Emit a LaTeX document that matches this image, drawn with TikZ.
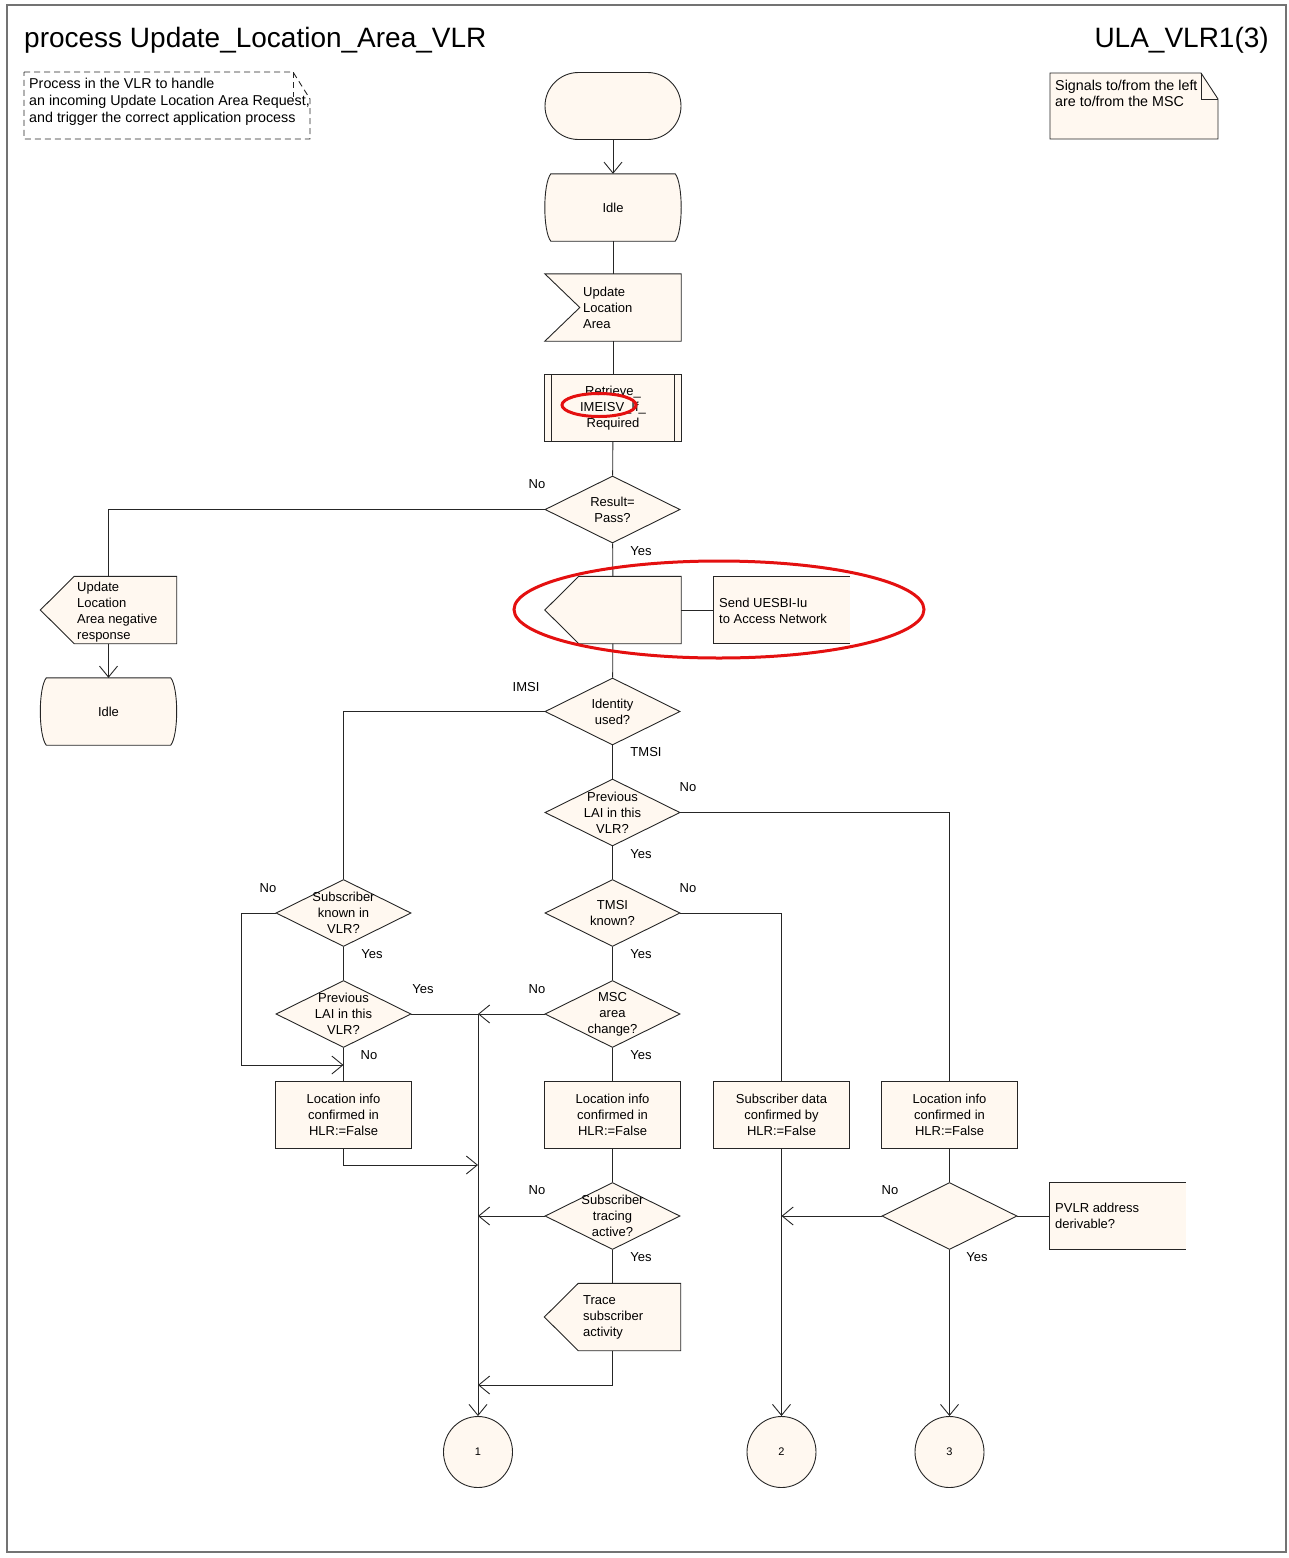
\documentclass[tikz,border=0pt]{standalone}
\usepackage{fontspec}
\setmainfont{Liberation Sans}
\usetikzlibrary{shapes.geometric,arrows.meta,calc}
\definecolor{cream}{RGB}{255,248,240}
\definecolor{markred}{RGB}{228,16,16}
\pgfdeclarelayer{bg}
\pgfsetlayers{bg,main}
\newcommand\sdlstate[1]{\begin{pgfonlayer}{bg}\draw[shp] ($(#1.north west)+(6,0)$) -- ($(#1.north east)+(-6,0)$) .. controls ($(#1.north east)+(2,10)$) and ($(#1.south east)+(2,-10)$) .. ($(#1.south east)+(-6,0)$) -- ($(#1.south west)+(6,0)$) .. controls ($(#1.south west)+(-2,-10)$) and ($(#1.north west)+(-2,10)$) .. ($(#1.north west)+(6,0)$) -- cycle;\end{pgfonlayer}}
\newcommand\sdlinput[1]{\begin{pgfonlayer}{bg}\draw[shp] (#1.north west) -- (#1.north east) -- (#1.south east) -- (#1.south west) -- ($(#1.west)+(35,0)$) -- cycle;\end{pgfonlayer}}
\newcommand\sdloutput[1]{\begin{pgfonlayer}{bg}\draw[shp] ($(#1.north west)+(34,0)$) -- (#1.north east) -- (#1.south east) -- ($(#1.south west)+(34,0)$) -- (#1.west) -- cycle;\end{pgfonlayer}}
\newcommand\sdlproc[1]{\begin{pgfonlayer}{bg}\draw[shp] (#1.north west) rectangle (#1.south east);\draw[shp] ($(#1.north west)+(7,0)$) -- ($(#1.south west)+(7,0)$) ($(#1.north east)+(-7,0)$) -- ($(#1.south east)+(-7,0)$);\end{pgfonlayer}}
\newcommand\sdlcomment[1]{\begin{pgfonlayer}{bg}\fill[cream] (#1.north west) rectangle (#1.south east);\draw[shp,fill=none] (#1.north east) -- (#1.north west) -- (#1.south west) -- (#1.south east);\end{pgfonlayer}}
\begin{document}
\begin{tikzpicture}[x=1pt,y=-1pt,
  every node/.style={font=\fontsize{13}{16}\selectfont},
  ln/.style={line width=0.9pt, draw=black!85},
  arr/.style={ln,-{Straight Barb[length=11pt,width=18pt,line width=0.9pt]}},
  blk/.style={minimum width=136pt, minimum height=67pt, inner sep=0pt, align=center},
  box/.style={blk, draw=black!85, line width=0.9pt, fill=cream},
  dec/.style={diamond, aspect=2, minimum width=135pt, minimum height=67pt, inner sep=0pt, draw=black!85, line width=0.9pt, fill=cream},
  dtxt/.style={align=center, inner sep=0pt},
  ltxt/.style={align=left, inner sep=0pt, anchor=west},
  shp/.style={draw=black!85, line width=0.9pt, fill=cream},
  lab/.style={inner sep=0pt},
  conn/.style={ellipse, minimum width=69pt, minimum height=71pt, inner sep=0pt, draw=black!85, line width=0.9pt, fill=cream, font=\fontsize{11}{13}\selectfont},
  redmark/.style={draw=markred, line width=3pt},
]
\useasboundingbox (0,0) rectangle (1289,1558);
\draw[black!55, line width=1.2pt] (7,5) rectangle (1286,1552);

% title
\node[anchor=west, inner sep=0pt, font=\fontsize{28}{32}\selectfont] (title) at (24,40) {process Update\_Location\_Area\_VLR};
\node[anchor=east, inner sep=0pt, font=\fontsize{28}{32}\selectfont] (page) at (1269,40) {ULA\_VLR1(3)};

% comments
\draw[ln, dash pattern=on 6pt off 4pt] (24,72) -- (293,72) -- (310,99) -- (310,139) -- (24,139) -- cycle;
\draw[ln, dash pattern=on 6pt off 4pt] (293,72) -- (293,97);
\node[ltxt, font=\fontsize{14.3}{17}\selectfont] (cmt0) at (29,102) {Process in the VLR to handle\\an incoming Update Location Area Request,\\and trigger the correct application process};

\draw[shp] (1050,73) -- (1201,73) -- (1218,99) -- (1218,139) -- (1050,139) -- cycle;
\draw[ln] (1201,73) -- (1201,99) -- (1218,99);
\node[ltxt, font=\fontsize{14.3}{15.5}\selectfont] (cmt1) at (1055,93.5) {Signals to/from the left\\are to/from the MSC};

% main column
\node[box, rounded corners=33.5pt] (start) at (613,106) {};
\node[blk] (idle1) at (613,207.5) {Idle};
\sdlstate{idle1}
\node[blk] (ula) at (613,307.5) {};
\sdlinput{ula}
\node[ltxt] (ulat) at (583,307.5) {Update\\Location\\Area};
\node[blk] (proc) at (613,408) {Retrieve\_\\IMEISV\_If\_\\Required};
\sdlproc{proc}
\node[dec] (d1) at (612.5,509.5) {};
\node[dtxt] (d1t) at (d1) {Result=\\Pass?};

\node[blk] (neg) at (108.5,610) {};
\sdloutput{neg}
\node[ltxt] (negt) at (77,612) {Update\\Location\\Area negative\\response};
\node[blk] (idle2) at (108.5,711.5) {Idle};
\sdlstate{idle2}

\node[blk] (out2) at (613,610) {};
\sdloutput{out2}
\node[blk] (cm1) at (781.5,610) {};
\sdlcomment{cm1}
\node[ltxt] (cm1t) at (719,611) {Send UESBI-Iu\\to Access Network};

\node[dec] (d3) at (612.5,711.5) {};
\node[dtxt] (d3t) at (d3) {Identity\\used?};
\node[dec] (d4) at (612.5,812.5) {};
\node[dtxt] (d4t) at (d4) {Previous\\LAI in this\\VLR?};
\node[dec] (d5) at (612.5,913) {};
\node[dtxt] (d5t) at (d5) {TMSI\\known?};
\node[dec] (d6) at (343.5,913) {};
\node[dtxt] (d6t) at (d6) {Subscriber\\known in\\VLR?};
\node[dec] (d7) at (612.5,1014) {};
\node[dtxt] (d7t) at (d7) {MSC\\area\\change?};
\node[dec] (d8) at (343.5,1014) {};
\node[dtxt] (d8t) at (d8) {Previous\\LAI in this\\VLR?};

\node[box] (li1) at (343.5,1115) {Location info\\confirmed in\\HLR:=False};
\node[box] (li2) at (612.5,1115) {Location info\\confirmed in\\HLR:=False};
\node[box] (sd) at (781.5,1115) {Subscriber data\\confirmed by\\HLR:=False};
\node[box] (li3) at (949.5,1115) {Location info\\confirmed in\\HLR:=False};

\node[dec] (d9) at (612.5,1216) {};
\node[dtxt] (d9t) at (d9) {Subscriber\\tracing\\active?};
\node[dec] (d10) at (949.5,1216) {};
\node[blk] (cm2) at (1117.5,1216) {};
\sdlcomment{cm2}
\node[ltxt] (cm2t) at (1055,1216) {PVLR address\\derivable?};

\node[blk] (trace) at (612.5,1317) {};
\sdloutput{trace}
\node[ltxt] (tracet) at (583,1317) {Trace\\subscriber\\activity};

\node[conn] (c1) at (478,1452) {1};
\node[conn] (c2) at (781.5,1452) {2};
\node[conn] (c3) at (949.5,1452) {3};

\coordinate (j1) at (343.5,1065);
\coordinate (j2) at (478,1165);
\coordinate (j3) at (478,1385);

% connectors
\draw[arr] (start) -- (idle1);
\draw[ln] (idle1) -- (ula);
\draw[ln] (ula) -- (proc);
\draw[ln] (proc) -- (d1);
\draw[ln] (d1.west) -| (neg.north);
\draw[arr] (neg) -- (idle2);
\draw[ln] (d1) -- (out2);
\draw[ln] (out2.east) -- (cm1.west);
\draw[ln] (out2) -- (d3);
\draw[ln] (d3.west) -| (d6.north);
\draw[ln] (d3) -- (d4);
\draw[ln] (d4.east) -| (li3.north);
\draw[ln] (d4) -- (d5);
\draw[ln] (d5.east) -| (sd.north);
\draw[ln] (d5) -- (d7);
\draw[arr] (d7.west) -- (d7.west -| c1);
\draw[arr] (d7.west -| c1) -- (c1.north);
\draw[ln] (d6) -- (d8);
\draw[arr] (d6.west) -- ++(-34,0) |- (j1);
\draw[ln] (d8.east) -- (d8.east -| c1);
\draw[ln] (d8) -- (li1);
\draw[arr] (li1.south) |- (j2);
\draw[ln] (d7) -- (li2);
\draw[ln] (li2) -- (d9);
\draw[arr] (d9.west) -- (d9.west -| c1);
\draw[ln] (d9) -- (trace);
\draw[arr] (trace.south) |- (j3);
\draw[arr] (sd) -- (c2);
\draw[ln] (li3) -- (d10);
\draw[arr] (d10.west) -- (d10.west -| c2);
\draw[arr] (d10) -- (c3);
\draw[ln] (d10.east) -- (cm2.west);

% labels
\node[lab] (l1) at (537,484) {No};
\node[lab] (l2) at (641,551) {Yes};
\node[lab] (l3) at (526,687) {IMSI};
\node[lab] (l4) at (646,752) {TMSI};
\node[lab] (l5) at (688,787) {No};
\node[lab] (l6) at (641,854) {Yes};
\node[lab] (l7) at (688,888) {No};
\node[lab] (l8) at (641,954) {Yes};
\node[lab] (l9) at (537,989) {No};
\node[lab] (l10) at (641,1055) {Yes};
\node[lab] (l11) at (537,1190) {No};
\node[lab] (l12) at (641,1257) {Yes};
\node[lab] (l13) at (268,888) {No};
\node[lab] (l14) at (372,954) {Yes};
\node[lab] (l15) at (423,989) {Yes};
\node[lab] (l16) at (369,1055) {No};
\node[lab] (l17) at (890,1190) {No};
\node[lab] (l18) at (977,1257) {Yes};

% red marks
\draw[redmark] (599,405) ellipse [x radius=37, y radius=11.5];
\draw[redmark] (719,609.5) ellipse [x radius=205, y radius=48.5];
\end{tikzpicture}
\end{document}
